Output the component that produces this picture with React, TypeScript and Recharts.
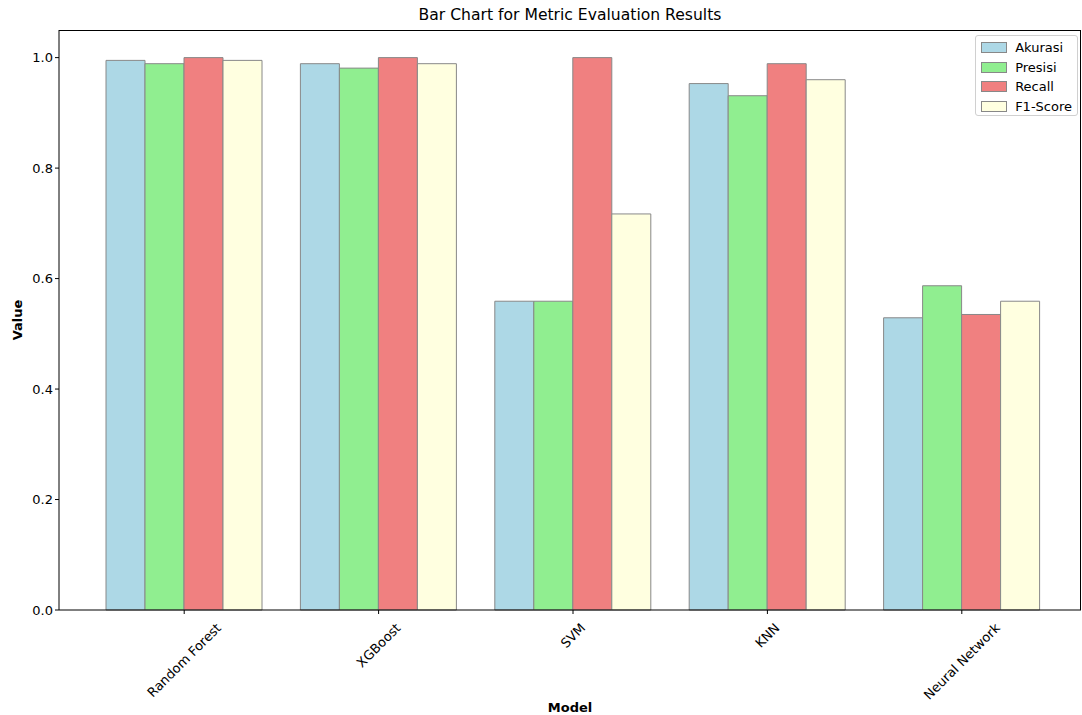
import { BarChart, Bar, XAxis, YAxis } from "recharts";

const models = ["Random Forest", "XGBoost", "SVM", "KNN", "Neural Network"];
const akurasi = [0.995, 0.989, 0.559, 0.953, 0.529];
const presisi = [0.989, 0.981, 0.559, 0.931, 0.587];
const recall = [1.0, 1.0, 1.0, 0.989, 0.535];
const f1Score = [0.995, 0.989, 0.717, 0.96, 0.559];
const yTicks = [0, 0.2, 0.4, 0.6, 0.8, 1.0];

const series = [
  { key: "Akurasi", color: "#ADD8E6" },
  { key: "Presisi", color: "#90EE90" },
  { key: "Recall", color: "#F08080" },
  { key: "F1-Score", color: "#FFFFE0" },
];

const data = models.map((m, i) => ({
  model: m,
  Akurasi: akurasi[i],
  Presisi: presisi[i],
  Recall: recall[i],
  "F1-Score": f1Score[i],
}));

const FONT = "DejaVu Sans, sans-serif";
const FS = 13;

function textWidth(s: string, size: number) {
  const ctx = document.createElement("canvas").getContext("2d");
  if (!ctx) return s.length * size * 0.6;
  ctx.font = `${size}px DejaVu Sans`;
  return ctx.measureText(s).width;
}

// matplotlib-style rotation=45: label rotated about its centre, sitting below the tick
function RotTick(props: any) {
  const { x, y, payload } = props;
  const w = textWidth(payload.value, FS);
  const off = ((w + FS) * Math.SQRT1_2) / 2 + 5;
  return (
    <text
      x={x}
      y={y + off}
      textAnchor="middle"
      dominantBaseline="central"
      fontSize={FS}
      fontFamily={FONT}
      fill="#000"
      transform={`rotate(-45 ${x} ${y + off})`}
    >
      {payload.value}
    </text>
  );
}

function LegendBox() {
  return (
    <div
      style={{
        position: "absolute",
        right: 4,
        top: 35,
        height: 81,
        boxSizing: "border-box",
        border: "1px solid #d0d0d0",
        borderRadius: 3,
        background: "#fff",
        padding: "2px 5px 0 5px",
        fontFamily: FONT,
        fontSize: FS,
        whiteSpace: "nowrap",
      }}
    >
      {series.map((s) => (
        <div key={s.key} style={{ display: "flex", alignItems: "center", height: 19.5 }}>
          <span
            style={{
              display: "inline-block",
              width: 26,
              height: 11,
              background: s.color,
              border: "1px solid #888",
              marginRight: 8,
              boxSizing: "border-box",
              flexShrink: 0,
            }}
          />
          <span>{s.key}</span>
        </div>
      ))}
    </div>
  );
}

export default function App() {
  return (
    <div style={{ position: "relative", width: 1082, height: 715, fontFamily: FONT }}>
      <style>{"body{margin:0}"}</style>
      <div
        style={{
          position: "absolute",
          left: 59,
          width: 1022,
          top: 6,
          textAlign: "center",
          fontSize: 15.6,
        }}
      >
        Bar Chart for Metric Evaluation Results
      </div>
      <div
        style={{
          position: "absolute",
          left: 59,
          width: 1022,
          top: 700,
          textAlign: "center",
          fontSize: FS,
          fontWeight: "bold",
        }}
      >
        Model
      </div>
      <div
        style={{
          position: "absolute",
          left: 17,
          top: 320,
          transform: "translate(-50%, -50%) rotate(-90deg)",
          fontSize: FS,
          fontWeight: "bold",
        }}
      >
        Value
      </div>
      <BarChart
        width={1082}
        height={715}
        data={data}
        margin={{ top: 30, right: 1, left: 9, bottom: 20 }}
        barGap={0}
        barCategoryGap={19}
      >
        <XAxis
          dataKey="model"
          height={85}
          padding={{ left: 28, right: 22 }}
          tick={<RotTick />}
          tickSize={4}
          interval={0}
          stroke="#000"
          axisLine={{ stroke: "#000" }}
          tickLine={{ stroke: "#000" }}
        />
        <YAxis
          width={50}
          domain={[0, 1.05]}
          ticks={yTicks}
          tickFormatter={(v: number) => v.toFixed(1)}
          tickSize={4}
          tick={{ fill: "#000", fontSize: FS, fontFamily: FONT }}
          axisLine={{ stroke: "#000" }}
          tickLine={{ stroke: "#000" }}
        />
        {series.map((s) => (
          <Bar
            key={s.key}
            dataKey={s.key}
            fill={s.color}
            stroke="#888"
            strokeWidth={1}
            isAnimationActive={false}
          />
        ))}
      </BarChart>
      <div
        style={{
          position: "absolute",
          left: 59,
          top: 30,
          width: 1022,
          height: 580,
          boxSizing: "border-box",
          borderTop: "1px solid #000",
          borderRight: "1px solid #000",
          pointerEvents: "none",
        }}
      />
      <LegendBox />
    </div>
  );
}
